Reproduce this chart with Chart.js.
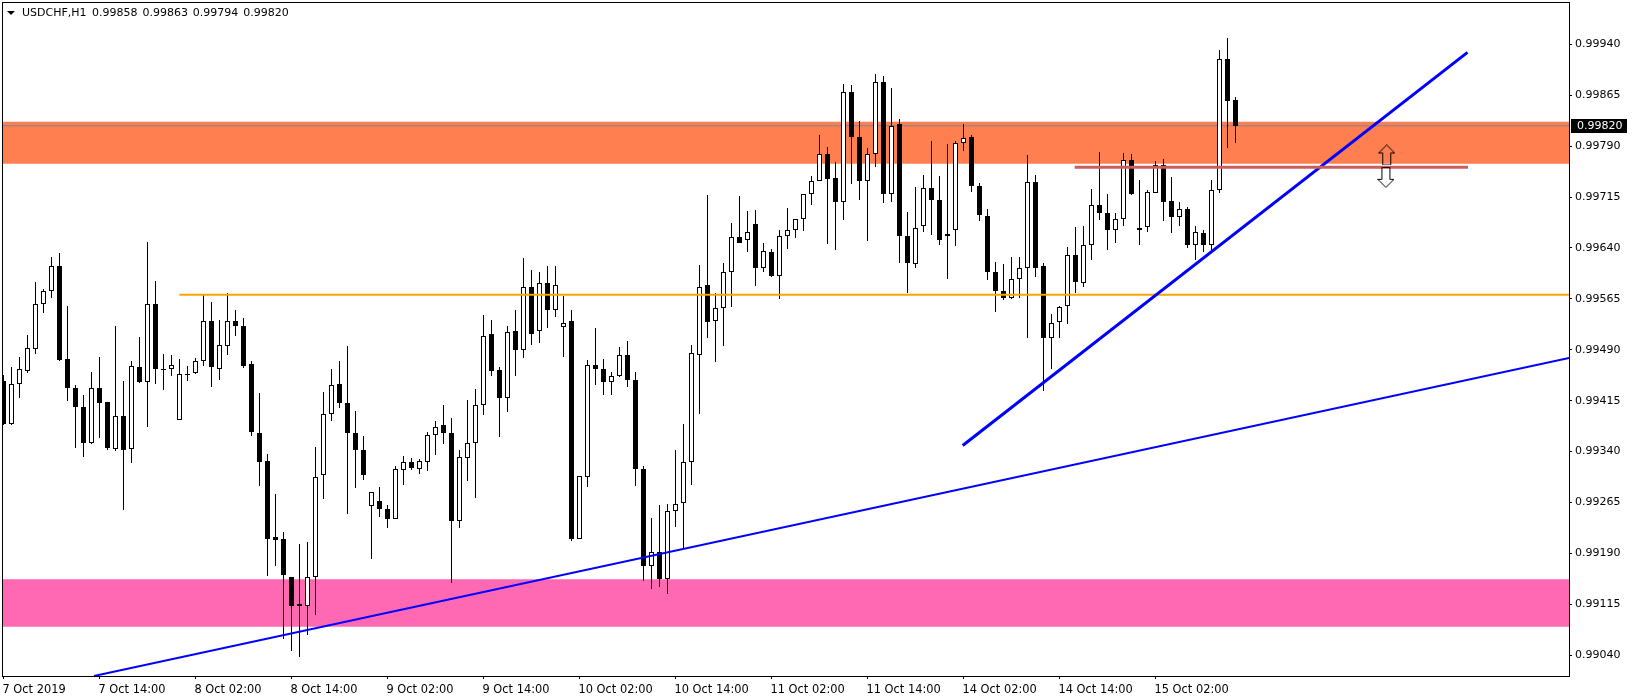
<!DOCTYPE html>
<html>
<head>
<meta charset="utf-8">
<title>USDCHF,H1</title>
<script src="https://cdn.jsdelivr.net/npm/chart.js@4/dist/chart.umd.min.js"></script>
<style>
    html, body { margin: 0; padding: 0; background: #fff; }
    canvas { display: block; }
</style>
</head>
<body>
<canvas id="candleChart" width="1633" height="700"></canvas>
<script>
const symbolName = 'USDCHF,H1';
const lastBar = ['0.99858', '0.99863', '0.99794', '0.99820'];
const tickLabels = ['7 Oct 2019', '7 Oct 14:00', '8 Oct 02:00', '8 Oct 14:00', '9 Oct 02:00', '9 Oct 14:00', '10 Oct 02:00',
    '10 Oct 14:00', '11 Oct 02:00', '11 Oct 14:00', '14 Oct 02:00', '14 Oct 14:00', '15 Oct 02:00'];
const priceTicks = [0.99040, 0.99115, 0.99190, 0.99265, 0.99340, 0.99415, 0.99490, 0.99565, 0.99640, 0.99715, 0.99790, 0.99865, 0.99940];

const opens = [
    0.99444, 0.99381, 0.99439, 0.99459, 0.99491, 0.99557, 0.99576, 0.99614, 0.99476, 0.99433,
    0.99405, 0.99353, 0.99433, 0.99413, 0.99344, 0.99393, 0.99344, 0.99464, 0.99442, 0.99557,
    0.99461, 0.99462, 0.99386, 0.99455, 0.99456, 0.99474, 0.99533, 0.99461, 0.99495, 0.99533,
    0.99525, 0.99469, 0.99368, 0.99326, 0.99214, 0.99211, 0.99156, 0.99115, 0.99113, 0.99156,
    0.99305, 0.99396, 0.99439, 0.99412, 0.99368, 0.99343, 0.99260, 0.99268, 0.99255, 0.99241,
    0.99313, 0.99324, 0.99315, 0.99324, 0.99364, 0.99379, 0.99368, 0.99238, 0.99330, 0.99352,
    0.99409, 0.99513, 0.99460, 0.99419, 0.99517, 0.99489, 0.99582, 0.99517, 0.99589, 0.99548,
    0.99523, 0.99532, 0.99212, 0.99302, 0.99467, 0.99461, 0.99442, 0.99452, 0.99482, 0.99446,
    0.99315, 0.99172, 0.99192, 0.99153, 0.99252, 0.99265, 0.99325, 0.99483, 0.99585, 0.99533,
    0.99551, 0.99604, 0.99656, 0.99651, 0.99676, 0.99610, 0.99634, 0.99598, 0.99657, 0.99666,
    0.99682, 0.99719, 0.99738, 0.99779, 0.99743, 0.99707, 0.99869, 0.99803, 0.99739, 0.99778,
    0.99884, 0.99720, 0.99822, 0.99657, 0.99617, 0.99673, 0.99728, 0.99710, 0.99661, 0.99667,
    0.99794, 0.99803, 0.99732, 0.99687, 0.99604, 0.99576, 0.99567, 0.99595, 0.99611, 0.99737,
    0.99613, 0.99508, 0.99531, 0.99554, 0.99629, 0.99589, 0.99645, 0.99704, 0.99691, 0.99666,
    0.99682, 0.99769, 0.99666, 0.99671, 0.99721, 0.99762, 0.99709, 0.99685, 0.99698, 0.99645,
    0.99662, 0.99645, 0.99726, 0.99919, 0.99858
];
const highs = [
    0.99453, 0.99464, 0.99479, 0.99512, 0.99590, 0.99580, 0.99627, 0.99633, 0.99555, 0.99438,
    0.99423, 0.99457, 0.99479, 0.99413, 0.99525, 0.99444, 0.99473, 0.99509, 0.99649, 0.99591,
    0.99484, 0.99482, 0.99476, 0.99466, 0.99478, 0.99571, 0.99560, 0.99534, 0.99574, 0.99549,
    0.99537, 0.99473, 0.99426, 0.99337, 0.99278, 0.99222, 0.99156, 0.99204, 0.99207, 0.99347,
    0.99428, 0.99462, 0.99473, 0.99496, 0.99400, 0.99363, 0.99280, 0.99288, 0.99261, 0.99319,
    0.99334, 0.99331, 0.99329, 0.99369, 0.99385, 0.99409, 0.99390, 0.99342, 0.99416, 0.99432,
    0.99541, 0.99534, 0.99464, 0.99525, 0.99549, 0.99625, 0.99608, 0.99605, 0.99613, 0.99613,
    0.99569, 0.99549, 0.99304, 0.99475, 0.99522, 0.99476, 0.99458, 0.99494, 0.99503, 0.99458,
    0.99319, 0.99242, 0.99261, 0.99263, 0.99342, 0.99381, 0.99497, 0.99615, 0.99718, 0.99574,
    0.99618, 0.99677, 0.99717, 0.99694, 0.99696, 0.99647, 0.99639, 0.99666, 0.99699, 0.99682,
    0.99719, 0.99746, 0.99806, 0.99789, 0.99767, 0.99882, 0.99880, 0.99827, 0.99787, 0.99896,
    0.99893, 0.99876, 0.99830, 0.99693, 0.99730, 0.99747, 0.99798, 0.99746, 0.99793, 0.99798,
    0.99823, 0.99806, 0.99736, 0.99697, 0.99619, 0.99616, 0.99627, 0.99627, 0.99777, 0.99747,
    0.99618, 0.99543, 0.99554, 0.99641, 0.99671, 0.99672, 0.99727, 0.99781, 0.99720, 0.99692,
    0.99780, 0.99778, 0.99740, 0.99725, 0.99768, 0.99771, 0.99745, 0.99708, 0.99700, 0.99672,
    0.99666, 0.99740, 0.99932, 0.99949, 0.99863
];
const lows = [
    0.99379, 0.99379, 0.99419, 0.99456, 0.99484, 0.99544, 0.99566, 0.99473, 0.99415, 0.99345,
    0.99332, 0.99351, 0.99360, 0.99342, 0.99341, 0.99254, 0.99323, 0.99441, 0.99376, 0.99440,
    0.99431, 0.99451, 0.99386, 0.99444, 0.99454, 0.99466, 0.99435, 0.99446, 0.99482, 0.99510,
    0.99463, 0.99363, 0.99289, 0.99157, 0.99172, 0.99064, 0.99046, 0.99037, 0.99070, 0.99099,
    0.99270, 0.99385, 0.99404, 0.99248, 0.99286, 0.99298, 0.99182, 0.99244, 0.99228, 0.99241,
    0.99291, 0.99313, 0.99307, 0.99311, 0.99335, 0.99351, 0.99146, 0.99228, 0.99297, 0.99272,
    0.99394, 0.99451, 0.99362, 0.99398, 0.99451, 0.99478, 0.99497, 0.99500, 0.99522, 0.99538,
    0.99479, 0.99208, 0.99212, 0.99288, 0.99438, 0.99423, 0.99423, 0.99450, 0.99435, 0.99289,
    0.99149, 0.99138, 0.99140, 0.99130, 0.99229, 0.99198, 0.99291, 0.99395, 0.99507, 0.99472,
    0.99496, 0.99553, 0.99648, 0.99634, 0.99584, 0.99605, 0.99597, 0.99565, 0.99639, 0.99655,
    0.99665, 0.99703, 0.99738, 0.99646, 0.99637, 0.99681, 0.99734, 0.99711, 0.99650, 0.99759,
    0.99706, 0.99708, 0.99618, 0.99574, 0.99610, 0.99664, 0.99659, 0.99644, 0.99594, 0.99643,
    0.99783, 0.99722, 0.99680, 0.99593, 0.99546, 0.99564, 0.99565, 0.99566, 0.99507, 0.99597,
    0.99429, 0.99462, 0.99507, 0.99528, 0.99574, 0.99583, 0.99622, 0.99681, 0.99637, 0.99647,
    0.99672, 0.99718, 0.99644, 0.99664, 0.99721, 0.99680, 0.99662, 0.99672, 0.99640, 0.99622,
    0.99634, 0.99636, 0.99721, 0.99787, 0.99794
];
const closes = [
    0.99381, 0.99439, 0.99461, 0.99492, 0.99557, 0.99576, 0.99613, 0.99475, 0.99433, 0.99405,
    0.99352, 0.99433, 0.99412, 0.99346, 0.99392, 0.99343, 0.99466, 0.99442, 0.99557, 0.99461,
    0.99460, 0.99467, 0.99455, 0.99455, 0.99474, 0.99533, 0.99464, 0.99497, 0.99533, 0.99525,
    0.99466, 0.99369, 0.99325, 0.99212, 0.99210, 0.99159, 0.99112, 0.99113, 0.99156, 0.99302,
    0.99396, 0.99438, 0.99412, 0.99368, 0.99343, 0.99305, 0.99280, 0.99256, 0.99241, 0.99315,
    0.99324, 0.99316, 0.99326, 0.99364, 0.99377, 0.99368, 0.99238, 0.99332, 0.99352, 0.99408,
    0.99511, 0.99459, 0.99419, 0.99516, 0.99489, 0.99582, 0.99513, 0.99589, 0.99548, 0.99585,
    0.99529, 0.99211, 0.99304, 0.99467, 0.99461, 0.99442, 0.99452, 0.99482, 0.99445, 0.99315,
    0.99171, 0.99192, 0.99152, 0.99252, 0.99263, 0.99324, 0.99485, 0.99583, 0.99531, 0.99551,
    0.99604, 0.99656, 0.99648, 0.99663, 0.99610, 0.99635, 0.99599, 0.99657, 0.99666, 0.99682,
    0.99719, 0.99738, 0.99779, 0.99741, 0.99707, 0.99869, 0.99803, 0.99738, 0.99778, 0.99885,
    0.99720, 0.99819, 0.99657, 0.99618, 0.99670, 0.99728, 0.99710, 0.99651, 0.99658, 0.99794,
    0.99802, 0.99732, 0.99688, 0.99604, 0.99576, 0.99567, 0.99595, 0.99611, 0.99737, 0.99611,
    0.99508, 0.99530, 0.99553, 0.99629, 0.99590, 0.99645, 0.99703, 0.99691, 0.99666, 0.99682,
    0.99769, 0.99720, 0.99669, 0.99722, 0.99762, 0.99707, 0.99686, 0.99697, 0.99645, 0.99663,
    0.99645, 0.99725, 0.99919, 0.99857, 0.99820
];

// horizontal zones and drawn objects, x is the bar number
const coralZone = [0.99826, 0.99764];
const pinkZone = [0.99152, 0.99082];
const lastPrice = 0.99820;
const supportLine = [[21.98, 0.99571], [195.69, 0.99571]];
const resistLine = [[133.9, 0.99759], [183.06, 0.99759]];
const thinTrend = [[11.31, 0.990095], [195.69, 0.99478]];
const thickTrend = [[119.9, 0.99349], [183.0, 0.99928]];
const upArrowAt = [172.9, 0.99777];
const downArrowAt = [172.8, 0.99744];

const textFont = { family: '"DejaVu Sans"', size: 11 };
const xMin = -0.1875;
const xMax = 195.6875;

function toPoints(list) {
    return list.map(p => ({ x: p[0], y: p[1] }));
}

function arrowIcon(up) {
    const c = document.createElement('canvas');
    c.width = 17;
    c.height = 21;
    const g = c.getContext('2d');
    g.strokeStyle = '#000';
    g.lineWidth = 1;
    g.beginPath();
    const shape = [[8.5, 0.5], [16.5, 8.5], [12.5, 8.5], [12.5, 20.5], [4.5, 20.5], [4.5, 8.5], [0.5, 8.5]];
    shape.forEach((p, i) => {
        const y = up ? p[1] : 21 - p[1];
        if (i === 0) g.moveTo(p[0], y); else g.lineTo(p[0], y);
    });
    g.closePath();
    g.stroke();
    return c;
}

function lineSet(points, color, width, order) {
    return {
        type: 'line',
        data: toPoints(points),
        borderColor: color,
        borderWidth: width,
        pointRadius: 0,
        tension: 0,
        order: order
    };
}

function zoneSet(zone, color) {
    return {
        type: 'line',
        data: [{ x: xMin, y: zone[0] }, { x: xMax, y: zone[0] }],
        borderWidth: 0,
        pointRadius: 0,
        backgroundColor: color,
        fill: { value: zone[1] },
        order: 9
    };
}

function arrowSet(at, up) {
    return {
        type: 'line',
        data: toPoints([at]),
        showLine: false,
        pointRadius: 6,
        pointStyle: arrowIcon(up),
        order: 0
    };
}

// bars land between pixels otherwise and the candle edges go grey
const snapBars = {
    id: 'snapBars',
    beforeDatasetsDraw(chart) {
        chart.getSortedVisibleDatasetMetas().forEach(meta => {
            if (meta.type !== 'bar') return;
            meta.data.forEach(bar => {
                bar.y = Math.round(bar.y);
                bar.base = Math.round(bar.base);
                if (bar.y === bar.base) bar.base = bar.y + 1;
            });
        });
    }
};

const frameAndText = {
    id: 'frameAndText',
    afterDraw(chart) {
        const ctx = chart.ctx;
        const area = chart.chartArea;
        ctx.save();
        ctx.strokeStyle = '#000';
        ctx.lineWidth = 1;
        ctx.strokeRect(area.left + 0.5, area.top + 0.5, area.right - area.left, area.bottom - area.top);

        // price tag on the axis
        const tagY = Math.round(chart.scales.y.getPixelForValue(lastPrice));
        ctx.fillStyle = '#000';
        ctx.fillRect(area.right + 2, tagY - 7, 56, 14);
        ctx.font = '11px "DejaVu Sans"';
        ctx.textBaseline = 'middle';
        ctx.fillStyle = '#fff';
        ctx.fillText(lastPrice.toFixed(5), area.right + 8, tagY + 0.5);

        // header
        ctx.fillStyle = '#000';
        ctx.beginPath();
        ctx.moveTo(7, 11);
        ctx.lineTo(15, 11);
        ctx.lineTo(11, 15);
        ctx.closePath();
        ctx.fill();
        ctx.fillText(symbolName, 22, 13);
        let x = 92;
        lastBar.forEach(v => {
            ctx.fillText(v, x, 13);
            x += 50.4;
        });
        ctx.restore();
    }
};

new Chart(document.getElementById('candleChart'), {
    type: 'bar',
    data: {
        datasets: [
            lineSet([[xMin, lastPrice], [xMax, lastPrice]], '#778899', 1, 7),
            zoneSet(coralZone, '#FF7F50'),
            zoneSet(pinkZone, '#FF69B4'),
            {
                label: 'wick',
                data: opens.map((o, i) => ({ x: i, y: [lows[i], highs[i]] })),
                backgroundColor: '#000',
                barThickness: 1,
                grouped: false,
                inflateAmount: 0,
                borderWidth: 0,
                order: 6
            },
            {
                label: 'body',
                data: opens.map((o, i) => ({ x: i, y: [o, closes[i]] })),
                backgroundColor: opens.map((o, i) => closes[i] >= o ? '#fff' : '#000'),
                borderColor: '#000',
                borderWidth: 1,
                borderSkipped: false,
                barThickness: 5,
                grouped: false,
                inflateAmount: 0,
                order: 5
            },
            lineSet(supportLine, '#FFA500', 2, 4),
            lineSet(thinTrend, '#0000FF', 2, 3),
            lineSet(thickTrend, '#0000FF', 3, 2),
            lineSet(resistLine, '#CD5C5C', 3, 1),
            arrowSet(upArrowAt, true),
            arrowSet(downArrowAt, false)
        ]
    },
    options: {
        responsive: false,
        animation: false,
        layout: { autoPadding: false, padding: { left: 2, top: 2, right: 0, bottom: 0 } },
        plugins: {
            legend: { display: false },
            tooltip: { enabled: false }
        },
        scales: {
            x: {
                type: 'linear',
                min: xMin,
                max: xMax,
                offset: false,
                border: { display: false },
                grid: { offset: false, drawOnChartArea: false, tickLength: 3, color: '#000' },
                ticks: {
                    font: { family: '"DejaVu Sans"', size: 11.4 },
                    color: '#000',
                    align: 'start',
                    labelOffset: -1,
                    padding: 4,
                    maxRotation: 0,
                    autoSkip: false,
                    callback: value => tickLabels[value / 12]
                },
                afterBuildTicks: axis => {
                    axis.ticks = tickLabels.map((t, i) => ({ value: i * 12 }));
                },
                afterFit: axis => {
                    axis.height = 24;
                    axis.paddingLeft = 0;
                    axis.paddingRight = 0;
                }
            },
            y: {
                type: 'linear',
                position: 'right',
                min: 0.990095,
                max: 1.000023,
                border: { display: false },
                grid: { drawOnChartArea: false, tickLength: 3, color: '#000' },
                ticks: {
                    font: textFont,
                    color: '#000',
                    padding: 3,
                    autoSkip: false,
                    callback: value => value.toFixed(5)
                },
                afterBuildTicks: axis => {
                    axis.ticks = priceTicks.map(v => ({ value: v }));
                },
                afterFit: axis => {
                    axis.width = 64;
                    axis.paddingTop = 0;
                    axis.paddingBottom = 0;
                }
            }
        }
    },
    plugins: [snapBars, frameAndText]
});
</script>
</body>
</html>
